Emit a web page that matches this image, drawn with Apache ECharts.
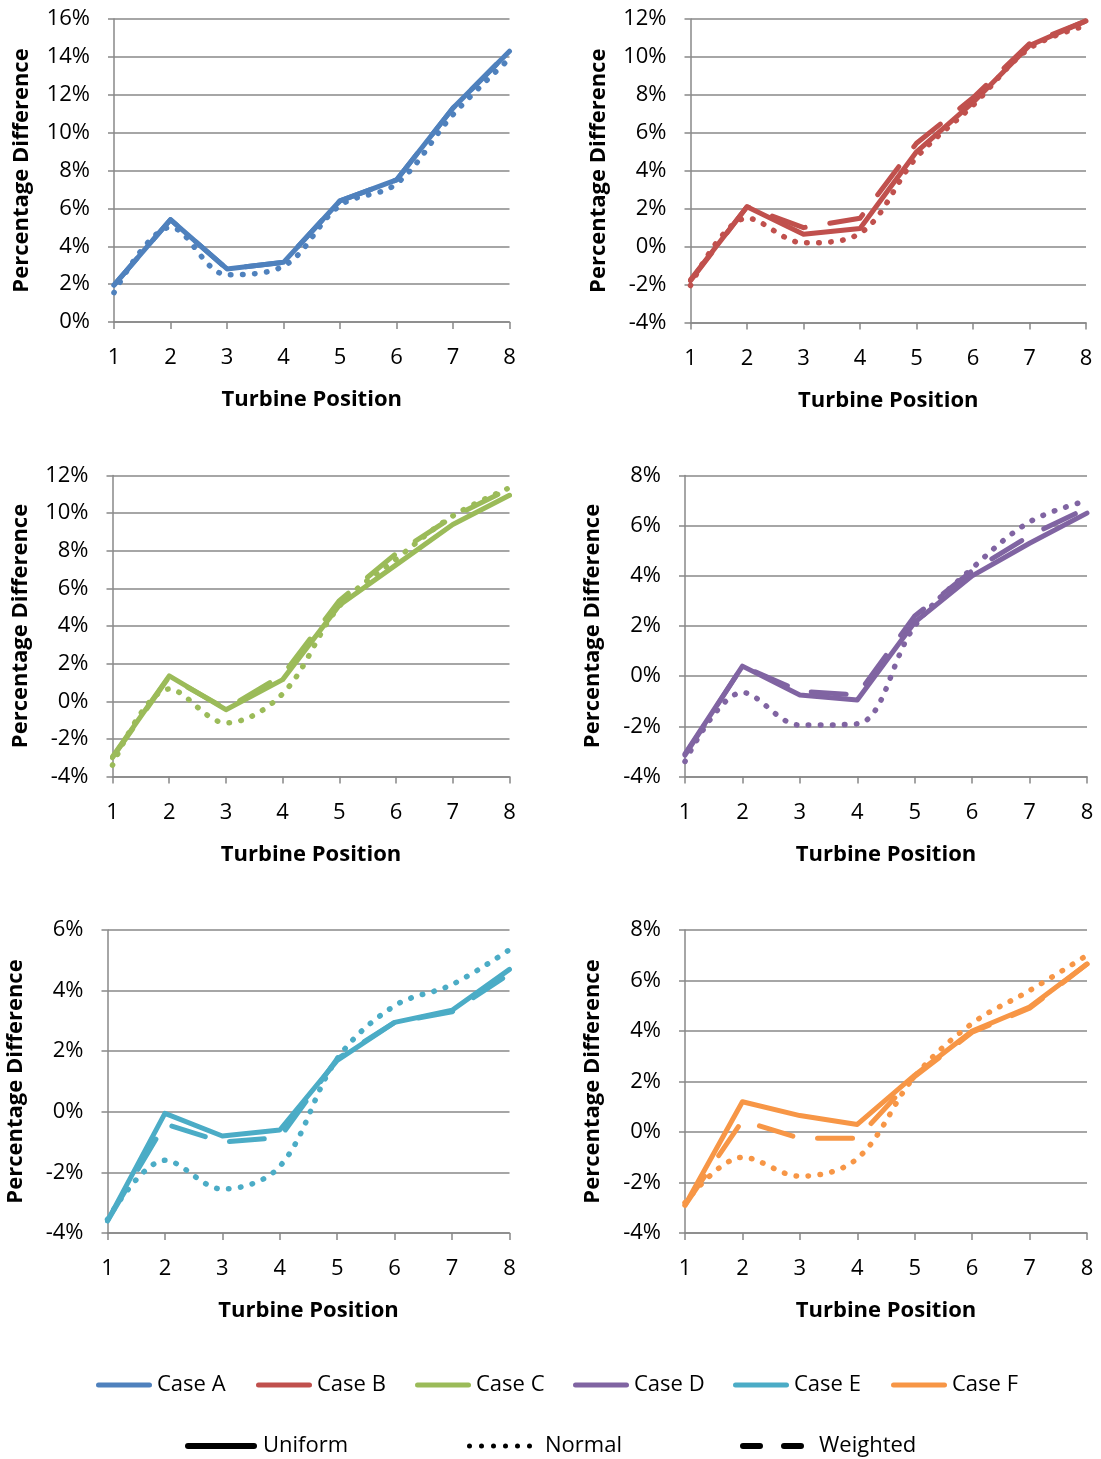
<!DOCTYPE html>
<html>
<head>
<meta charset="utf-8">
<script src="https://cdn.jsdelivr.net/npm/echarts@6/dist/echarts.min.js"></script>
<style>
  html, body { margin: 0; padding: 0; background: #fff; }
  #chart { width: 1101px; height: 1459px; }
</style>
</head>
<body>
<div id="chart"></div>
<script>
// Turbine positions along the row
const positions = [1, 2, 3, 4, 5, 6, 7, 8];

// Percentage difference per case, one array per weighting scheme
const caseA_uniform  = [1.95, 5.4, 2.8, 3.15, 6.4, 7.5, 11.3, 14.3];
const caseA_normal   = [1.55, 5.0, 2.5, 2.95, 6.15, 7.3, 10.95, 13.9];
const caseA_weighted = [1.95, 5.4, 2.8, 3.15, 6.4, 7.5, 11.3, 14.3];

const caseB_uniform  = [-1.75, 2.1, 0.65, 0.95, 5.0, 7.6, 10.6, 11.9];
const caseB_normal   = [-2.05, 1.5, 0.2, 0.7, 4.7, 7.45, 10.45, 11.65];
const caseB_weighted = [-1.8, 2.1, 1.0, 1.5, 5.45, 7.85, 10.7, 11.9];

const caseC_uniform  = [-2.95, 1.35, -0.45, 1.15, 5.1, 7.25, 9.4, 10.95];
const caseC_normal   = [-3.4, 0.65, -1.15, 0.4, 5.05, 7.55, 9.85, 11.35];
const caseC_weighted = [-3.0, 1.3, -0.4, 1.4, 5.35, 7.85, 9.8, 11.3];

const caseD_uniform  = [-3.1, 0.4, -0.75, -0.95, 2.15, 4.0, 5.3, 6.5];
const caseD_normal   = [-3.4, -0.65, -1.95, -1.9, 2.0, 4.3, 6.15, 7.0];
const caseD_weighted = [-3.15, 0.4, -0.6, -0.75, 2.4, 4.2, 5.6, 6.7];

const caseE_uniform  = [-3.6, -0.05, -0.8, -0.6, 1.7, 2.95, 3.35, 4.7];
const caseE_normal   = [-3.55, -1.6, -2.55, -1.8, 1.75, 3.5, 4.2, 5.35];
const caseE_weighted = [-3.6, -0.4, -1.0, -0.85, 1.75, 2.95, 3.3, 4.55];

const caseF_uniform  = [-2.9, 1.2, 0.65, 0.3, 2.25, 4.0, 4.95, 6.65];
const caseF_normal   = [-2.8, -1.0, -1.75, -1.05, 2.2, 4.3, 5.6, 7.0];
const caseF_weighted = [-2.9, 0.45, -0.25, -0.25, 2.2, 3.95, 4.9, 6.65];

const caseNames = ['Case A', 'Case B', 'Case C', 'Case D', 'Case E', 'Case F'];
const schemeNames = ['Uniform', 'Normal', 'Weighted'];

// y-axis ranges (percent) for each panel
const yMin = [0, -4, -4, -4, -4, -4];
const yMax = [16, 12, 12, 8, 6, 8];
const yStep = 2;

const uniformSets  = [caseA_uniform, caseB_uniform, caseC_uniform, caseD_uniform, caseE_uniform, caseF_uniform];
const normalSets   = [caseA_normal, caseB_normal, caseC_normal, caseD_normal, caseE_normal, caseF_normal];
const weightedSets = [caseA_weighted, caseB_weighted, caseC_weighted, caseD_weighted, caseE_weighted, caseF_weighted];

const colors = ['#4F81BD', '#C0504D', '#9BBB59', '#8064A2', '#4BACC6', '#F79646'];
const FONT = '"Open Sans", "Noto Sans", sans-serif';
const AXIS_GREY = '#888888';
const LW = 5;

// panel frames: [left, top, width, height]
const frames = [
  [114, 19, 395.5, 303],
  [690.5, 19, 395.5, 303.5],
  [112.5, 475.5, 397, 301],
  [685, 475.5, 402, 301],
  [107.5, 930, 402, 303],
  [685, 930, 402, 303]
];

const grids = [], xAxes = [], yAxes = [], series = [];

frames.forEach((f, i) => {
  grids.push({ left: f[0], top: f[1], width: f[2], height: f[3], containLabel: false });
  xAxes.push({
    type: 'value', gridIndex: i, min: 1, max: 8, interval: 1,
    name: 'Turbine Position', nameLocation: 'middle', nameGap: 67,
    nameTextStyle: { fontFamily: FONT, fontSize: 22, fontWeight: 'bold', color: '#000' },
    axisLine: { onZero: false, lineStyle: { color: AXIS_GREY, width: 1.5 } },
    axisTick: { show: true, length: 7, lineStyle: { color: AXIS_GREY, width: 1.5 } },
    axisLabel: { margin: 25, fontFamily: FONT, fontSize: 22, color: '#000' },
    splitLine: { show: false }
  });
  yAxes.push({
    type: 'value', gridIndex: i, min: yMin[i], max: yMax[i], interval: yStep,
    name: 'Percentage Difference', nameLocation: 'middle', nameGap: 81, nameRotate: 90,
    nameTextStyle: { fontFamily: FONT, fontSize: 22, fontWeight: 'bold', color: '#000' },
    axisLine: { show: true, lineStyle: { color: AXIS_GREY, width: 1.5 } },
    axisTick: { show: true, length: 6, lineStyle: { color: AXIS_GREY, width: 1.5 } },
    axisLabel: { margin: 24, fontFamily: FONT, fontSize: 22, color: '#000', formatter: v => v + '%' },
    splitLine: { show: true, lineStyle: { color: AXIS_GREY, width: 1.5 } }
  });

  const toPts = arr => positions.map((p, j) => [p, arr[j]]);
  const common = { type: 'line', xAxisIndex: i, yAxisIndex: i, symbol: 'none', silent: true, animation: false };

  series.push(Object.assign({}, common, {
    name: caseNames[i],
    data: toPts(uniformSets[i]),
    lineStyle: { color: colors[i], width: LW, cap: 'round', join: 'round' },
    itemStyle: { color: colors[i] }
  }));
  series.push(Object.assign({}, common, {
    name: caseNames[i] + ' normal',
    data: toPts(normalSets[i]),
    smooth: 0.35,
    lineStyle: { color: colors[i], width: LW + 0.5, type: [0.5, 11.5], cap: 'round', join: 'round' },
    itemStyle: { color: colors[i] }
  }));
  series.push(Object.assign({}, common, {
    name: caseNames[i] + ' weighted',
    data: toPts(weightedSets[i]),
    lineStyle: { color: colors[i], width: LW, type: [35, 25], cap: 'round', join: 'round' },
    itemStyle: { color: colors[i] }
  }));
});

// empty series that only carry the line-style legend entries
schemeNames.forEach(n => {
  series.push({ type: 'line', name: n, xAxisIndex: 0, yAxisIndex: 0, data: [], symbol: 'none',
    itemStyle: { color: '#000' }, lineStyle: { color: '#000' } });
});

// legend icons
const barIcon = (w, h) => {
  const r = h / 2;
  return `path://M${r},0 H${w - r} A${r},${r} 0 0 1 ${w - r},${h} H${r} A${r},${r} 0 0 1 ${r},0 Z`;
};
const dotIcon = (w, d, n) => {
  const r = d / 2, step = (w - d) / (n - 1);
  let p = 'path://';
  for (let k = 0; k < n; k++) {
    const cx = r + k * step;
    p += `M${cx - r},${r} A${r},${r} 0 1 0 ${cx + r},${r} A${r},${r} 0 1 0 ${cx - r},${r} Z `;
  }
  return p;
};
const dashIcon = (w, h, dw) => {
  const r = h / 2;
  const seg = x0 => `M${x0 + r},0 H${x0 + dw - r} A${r},${r} 0 0 1 ${x0 + dw - r},${h} H${x0 + r} A${r},${r} 0 0 1 ${x0 + r},0 Z `;
  return 'path://' + seg(0) + seg(w - dw);
};

const legendText = { fontFamily: FONT, fontSize: 22, color: '#000' };
const legends = [];
const caseLegendX = [96, 256, 415, 573, 733, 891];
caseNames.forEach((n, i) => {
  legends.push({
    data: [{ name: n, icon: barIcon(56, 5), itemStyle: { color: colors[i] } }],
    left: caseLegendX[i], top: 1374, padding: 0, itemWidth: 56, itemHeight: 5,
    selectedMode: false, textStyle: legendText
  });
});
legends.push({
  data: [{ name: 'Uniform', icon: barIcon(72, 6), itemStyle: { color: '#000' } }],
  left: 185, top: 1435, padding: 0, itemWidth: 72, itemHeight: 6,
  selectedMode: false, textStyle: Object.assign({ padding: [0, 0, 0, 1] }, legendText)
});
legends.push({
  data: [{ name: 'Normal', icon: dotIcon(65, 5, 6), itemStyle: { color: '#000' } }],
  left: 467, top: 1435, padding: 0, itemWidth: 65, itemHeight: 5,
  selectedMode: false, textStyle: Object.assign({ padding: [0, 0, 0, 8] }, legendText)
});
legends.push({
  data: [{ name: 'Weighted', icon: dashIcon(64, 6, 23), itemStyle: { color: '#000' } }],
  left: 740, top: 1435, padding: 0, itemWidth: 64, itemHeight: 6,
  selectedMode: false, textStyle: Object.assign({ padding: [0, 0, 0, 10] }, legendText)
});

const chart = echarts.init(document.getElementById('chart'), null, { renderer: 'canvas' });
chart.setOption({
  backgroundColor: '#ffffff',
  animation: false,
  grid: grids,
  xAxis: xAxes,
  yAxis: yAxes,
  legend: legends,
  series: series
});
</script>
</body>
</html>
